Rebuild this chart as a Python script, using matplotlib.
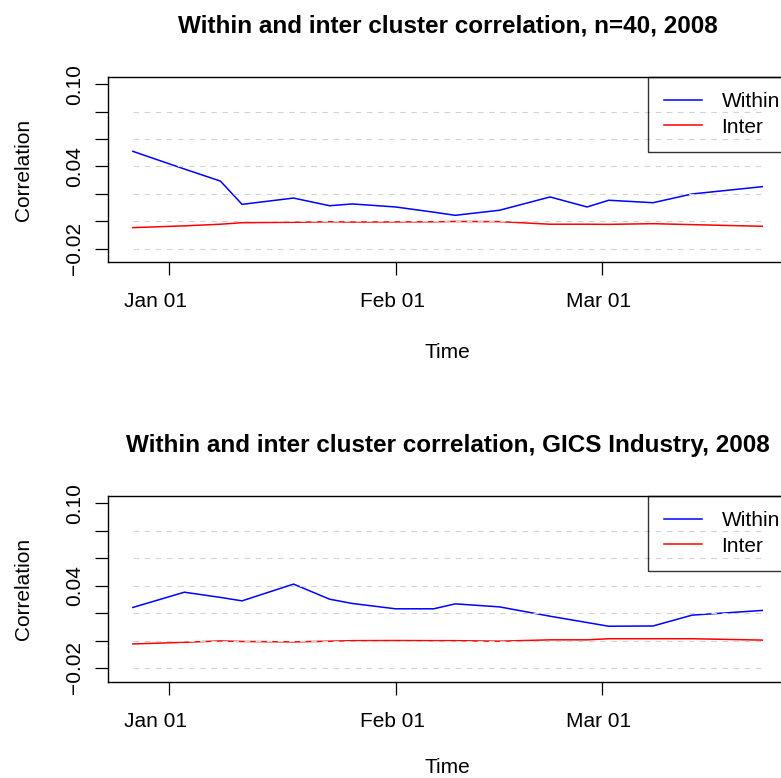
"""
Within vs inter cluster correlation, 2008 -- two stacked panels (n=40 clusters, GICS Industry).
x axis is a trading-day index, 0 = Jan 01.
"""
import matplotlib
matplotlib.use('Agg')
import matplotlib.pyplot as plt
import numpy as np

plt.rcParams['font.family'] = ['Liberation Sans', 'DejaVu Sans']

# trading days from Jan 01 for each observation
day = [-3.5, 1.5, 5.0, 7.1, 12.1, 15.6, 17.8, 22.0, 25.7, 27.8,
       32.1, 37.0, 40.6, 42.7, 47.0, 50.8, 57.6]

within_n40 = [0.0510, 0.0381, 0.0293, 0.0123, 0.0169, 0.0113, 0.0126, 0.0104, 0.0066, 0.0043,
              0.0080, 0.0177, 0.0104, 0.0153, 0.0135, 0.0199, 0.0252]
inter_n40 = [-0.0047, -0.0034, -0.0022, -0.0011, -0.0008, -0.0004, -0.0006, -0.0005, -0.0004, -0.0002,
             -0.0003, -0.0022, -0.0022, -0.0023, -0.0018, -0.0025, -0.0037]

within_gics = [0.0241, 0.0352, 0.0314, 0.0289, 0.0411, 0.0301, 0.0270, 0.0231, 0.0231, 0.0267,
               0.0245, 0.0177, 0.0131, 0.0104, 0.0106, 0.0185, 0.0219]
inter_gics = [-0.0025, -0.0013, -0.0003, -0.0007, -0.0010, -0.0005, -0.0001, 0.0000, -0.0001, -0.0001,
              -0.0005, 0.0005, 0.0005, 0.0013, 0.0013, 0.0013, 0.0003]

titles = ['Within and inter cluster correlation, n=40, 2008',
          'Within and inter cluster correlation, GICS Industry, 2008']

month_ticks = [0, 22, 42]           # tick marks
month_label_pos = [-1.3, 21.7, 41.7]  # where the labels sit
month_labels = ['Jan 01', 'Feb 01', 'Mar 01']

yticks = [-0.02, 0.00, 0.02, 0.04, 0.06, 0.08, 0.10]
ytick_labels = ['\u22120.02', '', '', '0.04', '', '', '0.10']
grid_levels = [-0.02, 0.00, 0.02, 0.04, 0.06, 0.08]

W, H = 781, 778
fig = plt.figure(figsize=(W / 100, H / 100), dpi=100)

# axes boxes in pixels: left, top, width, height; plus xlabel offset
boxes = [(107.7, 76.7, 679.7, 185.6), (107.7, 495.7, 679.7, 186.0)]
xlab_y = [-0.435, -0.410]
series = [(within_n40, inter_n40), (within_gics, inter_gics)]

x = np.array(day)
span = x.max() - x.min()
xlim = (x.min() - 0.04 * span, x.max() + 0.04 * span)

for (l, t, w, h), ly, (within, inter), title in zip(boxes, xlab_y, series, titles):
    ax = fig.add_axes([l / W, 1 - (t + h) / H, w / W, h / H])
    ax.plot(day, within, color='blue', lw=1.1, label='Within', zorder=2)
    ax.plot(day, inter, color='red', lw=1.1, label='Inter', zorder=2)
    ax.hlines(grid_levels, x.min(), x.max(), colors='#d3d3d3', lw=0.8,
              linestyles=(0, (5, 5)), zorder=3)

    ax.set_xlim(*xlim)
    ax.set_ylim(-0.0300, 0.1055)

    ax.set_yticks(yticks, ytick_labels, rotation=90, va='center')
    ax.set_xticks(month_ticks, [''] * len(month_ticks))
    ax.set_xticks(month_label_pos, month_labels, minor=True)
    ax.tick_params(axis='both', which='major', length=9.2, width=0.9, labelsize=15, pad=7.6)
    ax.tick_params(axis='x', which='minor', length=0, labelsize=15, pad=21.5)

    for s in ax.spines.values():
        s.set_linewidth(1.0)

    ax.set_title(title, fontsize=17.5, fontweight='bold', pad=31.5)
    ax.set_xlabel('Time', fontsize=15)
    ax.xaxis.set_label_coords(0.5, ly)
    ax.set_ylabel('Correlation', fontsize=15)
    ax.yaxis.set_label_coords(-0.110, 0.5)

    leg = ax.legend(loc='upper right', bbox_to_anchor=(1.012, 1), borderaxespad=0,
                    fontsize=15, frameon=True, fancybox=False, edgecolor='black',
                    facecolor='none', framealpha=None, handlelength=1.85,
                    handletextpad=0.93, borderpad=0.75, labelspacing=0.31)
    leg.get_frame().set_linewidth(1.0)

fig.savefig('out.png', dpi=100)
plt.close()
